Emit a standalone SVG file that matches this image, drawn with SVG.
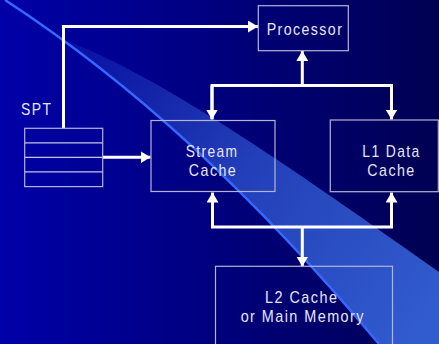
<svg xmlns="http://www.w3.org/2000/svg" width="439" height="344" viewBox="0 0 439 344">
  <defs>
    <linearGradient id="bg" x1="0" y1="0" x2="1" y2="0">
      <stop offset="0" stop-color="#0000A8"/>
      <stop offset="1" stop-color="#000052"/>
    </linearGradient>
    <linearGradient id="sweep" gradientUnits="userSpaceOnUse" x1="60" y1="40" x2="439" y2="300">
      <stop offset="0" stop-color="#3A6AE6" stop-opacity="0.12"/>
      <stop offset="0.5" stop-color="#3A6AE6" stop-opacity="0.6"/>
      <stop offset="1" stop-color="#3563DA" stop-opacity="0.92"/>
    </linearGradient>
    <marker id="head" viewBox="0 0 10 12" refX="10" refY="6" markerWidth="10" markerHeight="12" markerUnits="userSpaceOnUse" orient="auto">
      <path d="M0,0 L10,6 L0,12 Z" fill="#FFFFFF"/>
    </marker>
    <style>
      .box { fill: none; stroke: #B4B4D6; stroke-width: 1.2; }
      .row { stroke: #C4C4E4; stroke-width: 1.3; }
      .wire { fill: none; stroke: #FFFFFF; stroke-width: 3; stroke-linejoin: miter; }
      .arrow { fill: none; stroke: #FFFFFF; stroke-width: 3; marker-end: url(#head); }
      text { font-family: "Liberation Sans", Arial, sans-serif; font-size: 17px; letter-spacing: 1.7px; fill: #E6E6F6; }
      .c { text-anchor: middle; }
    </style>
  </defs>

  <!-- backdrop: navy gradient with a sweeping translucent band -->
  <rect x="0" y="0" width="439" height="344" fill="url(#bg)"/>
  <path d="M62,39 C150,72 260,145 439,272 L439,344 L379,344 Q223,157 62,39 Z" fill="url(#sweep)"/>
  <path d="M5,0 Q195.5,124 379,344" fill="none" stroke="#3468FF" stroke-width="2.5"/>

  <!-- connectors -->
  <g id="connectors">
    <!-- SPT to processor -->
    <polyline class="arrow" points="63.5,128 63.5,26.5 258,26.5"/>
    <!-- SPT to stream cache -->
    <line class="arrow" x1="102.7" y1="157.3" x2="150.5" y2="157.3"/>
    <!-- upper bus -->
    <polyline class="wire" points="212,119 212,85.5 391.5,85.5 391.5,119"/>
    <line class="arrow" x1="302.3" y1="85.5" x2="302.3" y2="51"/>
    <line class="arrow" x1="212" y1="86" x2="212" y2="119.5"/>
    <line class="arrow" x1="391.5" y1="86" x2="391.5" y2="119.5"/>
    <!-- lower bus -->
    <polyline class="wire" points="212.5,205 212.5,227 391.5,227 391.5,205"/>
    <line class="arrow" x1="212.5" y1="226" x2="212.5" y2="192.5"/>
    <line class="arrow" x1="391.5" y1="226" x2="391.5" y2="192.5"/>
    <line class="arrow" x1="302.3" y1="227" x2="302.3" y2="266.5"/>
  </g>

  <!-- nodes -->
  <g id="spt">
    <text x="21" y="115" textLength="31.3" lengthAdjust="spacingAndGlyphs">SPT</text>
    <rect class="box" x="24.7" y="128.3" width="78" height="58.3"/>
    <line class="row" x1="24.7" y1="142.8" x2="102.7" y2="142.8"/>
    <line class="row" x1="24.7" y1="157.3" x2="102.7" y2="157.3"/>
    <line class="row" x1="24.7" y1="171.8" x2="102.7" y2="171.8"/>
  </g>

  <g id="processor">
    <rect class="box" x="258.3" y="5.7" width="90" height="45"/>
    <text class="c" x="305" y="35" textLength="76.7" lengthAdjust="spacingAndGlyphs">Processor</text>
  </g>

  <g id="stream-cache">
    <rect class="box" x="151" y="120.5" width="124" height="71"/>
    <text class="c" x="212" y="157" textLength="52.7" lengthAdjust="spacingAndGlyphs">Stream</text>
    <text class="c" x="213" y="175.5" textLength="48.3" lengthAdjust="spacingAndGlyphs">Cache</text>
  </g>

  <g id="l1-data-cache">
    <rect class="box" x="330.3" y="120" width="108" height="71.7"/>
    <text class="c" x="391.5" y="156.7" textLength="58.3" lengthAdjust="spacingAndGlyphs">L1 Data</text>
    <text class="c" x="391.5" y="175.7" textLength="48.3" lengthAdjust="spacingAndGlyphs">Cache</text>
  </g>

  <g id="l2-cache">
    <rect class="box" x="215.5" y="266.3" width="177" height="100"/>
    <text class="c" x="301.7" y="303.3" textLength="73.3" lengthAdjust="spacingAndGlyphs">L2 Cache</text>
    <text class="c" x="302.8" y="322.3" textLength="124.3" lengthAdjust="spacingAndGlyphs">or Main Memory</text>
  </g>
</svg>
